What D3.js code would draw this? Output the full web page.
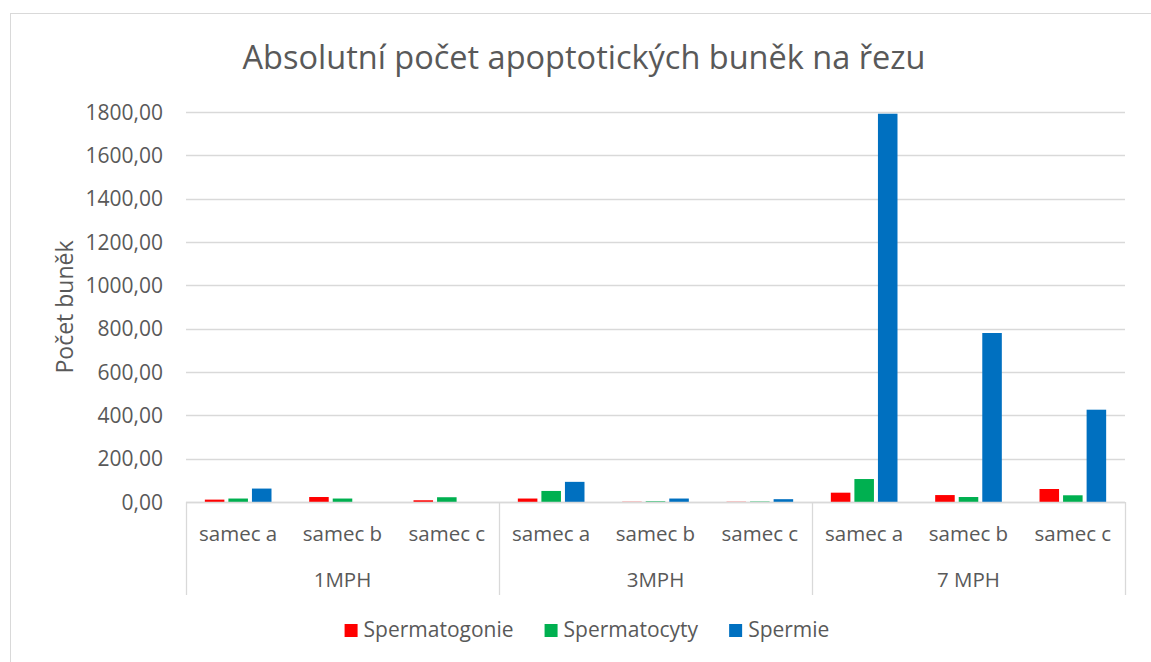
<!DOCTYPE html>
<html>
<head>
<meta charset="utf-8">
<script src="https://cdn.jsdelivr.net/npm/d3@7"></script>
<style>
  body { margin: 0; background: #fff; }
  text { font-family: "Open Sans", "Noto Sans", sans-serif; fill: #595959; }
</style>
</head>
<body>
<div id="chart"></div>
<script>
// chart data
var groups = ['1MPH', '3MPH', '7 MPH']
var males = ['samec a', 'samec b', 'samec c']
var seriesNames = ['Spermatogonie', 'Spermatocyty', 'Spermie']
var spermatogonie = [11, 23, 8, 16, 1, 1, 43, 32, 60]
var spermatocyty = [16, 16, 22, 51, 3, 2, 106, 23, 31]
var spermie = [62, 0, 0, 93, 16, 13, 1792, 780, 426]
var yTicks = [0, 200, 400, 600, 800, 1000, 1200, 1400, 1600, 1800]

var colors = ['#FF0000', '#00B050', '#0070C0']
var gridColor = '#d9d9d9'

var W = 1151, H = 662
var plot = {left: 186, right: 1125, top: 112, bottom: 502}

var svg = d3.select('#chart').append('svg')
  .attr('width', W)
  .attr('height', H)

// outer chart border (runs off the right/bottom edge)
svg.append('rect')
  .attr('x', 10.5).attr('y', 13.5)
  .attr('width', 1160).attr('height', 670)
  .attr('fill', 'none')
  .attr('stroke', gridColor)

// build category rows: group x male
var cats = []
groups.forEach(function(g, gi) {
  males.forEach(function(m, mi) {
    var i = gi * males.length + mi
    cats.push({id: g + '|' + m, group: g, male: m,
      values: [spermatogonie[i], spermatocyty[i], spermie[i]]})
  })
})

var x0 = d3.scaleBand()
  .domain(cats.map(function(d) { return d.id }))
  .range([plot.left, plot.right])

var x1 = d3.scaleBand()
  .domain(seriesNames)
  .range([0, x0.bandwidth()])
  .paddingInner(0.17)
  .paddingOuter(0.8)

var y = d3.scaleLinear()
  .domain([0, 1800])
  .range([plot.bottom, plot.top])

// gridlines
svg.append('g')
  .selectAll('line')
  .data(yTicks)
  .enter().append('line')
  .attr('x1', plot.left).attr('x2', plot.right)
  .attr('y1', function(d) { return Math.round(y(d)) + 0.5 })
  .attr('y2', function(d) { return Math.round(y(d)) + 0.5 })
  .attr('stroke', gridColor)
  .attr('stroke-width', 1.3)

// y tick labels
var fmt = function(d) { return d3.format('.2f')(d).replace('.', ',') }
svg.append('g')
  .selectAll('text')
  .data(yTicks)
  .enter().append('text')
  .attr('x', 163)
  .attr('y', function(d) { return y(d) + 7.5 })
  .attr('text-anchor', 'end')
  .style('font-size', '21px')
  .text(fmt)

// bars
var catG = svg.append('g')
  .selectAll('g')
  .data(cats)
  .enter().append('g')
  .attr('transform', function(d) { return 'translate(' + x0(d.id) + ',0)' })

catG.selectAll('rect')
  .data(function(d) { return d.values.map(function(v, i) { return {name: seriesNames[i], value: v, i: i} }) })
  .enter().append('rect')
  .attr('x', function(d) { return x1(d.name) })
  .attr('width', x1.bandwidth())
  .attr('y', function(d) { return y(d.value) })
  .attr('height', function(d) { return y(0) - y(d.value) })
  .attr('fill', function(d) { return colors[d.i] })

// x axis line and group separators
var axisBottom = 595
svg.append('line')
  .attr('x1', plot.left).attr('x2', plot.right)
  .attr('y1', plot.bottom + 0.5).attr('y2', plot.bottom + 0.5)
  .attr('stroke', gridColor).attr('stroke-width', 1.3)

var sepX = groups.map(function(g) { return x0(g + '|' + males[0]) })
sepX.push(plot.right)
svg.append('g')
  .selectAll('line')
  .data(sepX)
  .enter().append('line')
  .attr('x1', function(d) { return Math.round(d) + 0.5 })
  .attr('x2', function(d) { return Math.round(d) + 0.5 })
  .attr('y1', plot.bottom).attr('y2', axisBottom)
  .attr('stroke', gridColor).attr('stroke-width', 1.3)

// category labels
svg.append('g')
  .selectAll('text')
  .data(cats)
  .enter().append('text')
  .attr('x', function(d) { return x0(d.id) + x0.bandwidth() / 2 })
  .attr('y', 541)
  .attr('text-anchor', 'middle')
  .style('font-size', '20.5px')
  .text(function(d) { return d.male })

// group labels
svg.append('g')
  .selectAll('text')
  .data(groups)
  .enter().append('text')
  .attr('x', function(g) { return x0(g + '|' + males[1]) + x0.bandwidth() / 2 })
  .attr('y', 587)
  .attr('text-anchor', 'middle')
  .style('font-size', '20.5px')
  .text(function(g) { return g })

// title, fitted to the reference width
var title = svg.append('text')
  .attr('x', 584)
  .attr('y', 69)
  .attr('text-anchor', 'middle')
  .style('font-size', '33px')
  .text('Absolutní počet apoptotických buněk na řezu')
var tw = title.node().getComputedTextLength()
title.style('font-size', (33 * 683 / tw) + 'px')

// y axis title
svg.append('text')
  .attr('transform', 'translate(73,' + ((plot.top + plot.bottom) / 2) + ') rotate(-90)')
  .attr('text-anchor', 'middle')
  .style('font-size', '23px')
  .text('Počet buněk')

// legend
var legend = svg.append('g')
var lx = 347
seriesNames.forEach(function(name, i) {
  var item = legend.append('g').attr('transform', 'translate(' + lx + ',0)')
  item.append('rect')
    .attr('x', 0).attr('y', 624)
    .attr('width', 13).attr('height', 13)
    .attr('fill', colors[i])
  var t = item.append('text')
    .attr('x', 19).attr('y', 637)
    .style('font-size', '21px')
    .text(name)
  lx += 19 + t.node().getComputedTextLength() + 31
})
// centre legend under the plot
var lb = legend.node().getBBox()
legend.attr('transform', 'translate(' + (587 - (lb.x + lb.width / 2)) + ',0)')
</script>
</body>
</html>
